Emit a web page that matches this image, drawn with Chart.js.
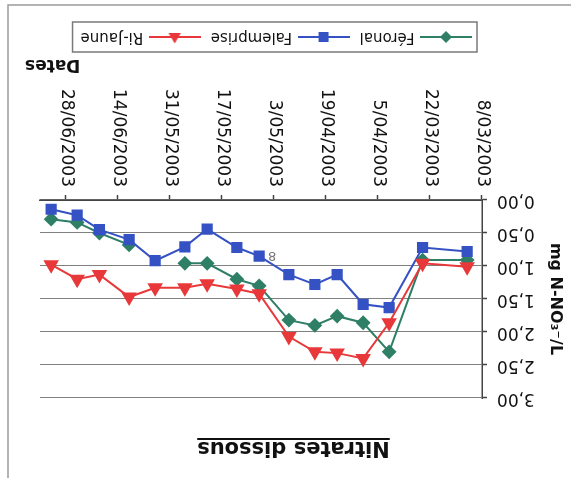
<!DOCTYPE html>
<html><head><meta charset="utf-8">
<script src="https://cdn.jsdelivr.net/npm/chart.js@4/dist/chart.umd.min.js"></script>
<style>
html,body{margin:0;padding:0;background:#fff;overflow:hidden;}
#wrap{width:571px;height:478px;transform:rotate(180deg);transform-origin:50% 50%;}
canvas{display:block;}
</style></head><body>
<div id="wrap"><canvas id="c" width="571" height="478"></canvas></div>
<script>
// ---- data ----
const sampleDates = ['12/03/2003','24/03/2003','2/04/2003','9/04/2003','16/04/2003','22/04/2003','29/04/2003','7/05/2003','13/05/2003','21/05/2003','27/05/2003','4/06/2003','11/06/2003','19/06/2003','25/06/2003','2/07/2003'];
const feronal    = [0.91,0.91,2.30,1.86,1.76,1.90,1.82,1.30,1.20,0.96,0.96,null,0.68,0.50,0.34,0.29];
const falemprise = [0.78,0.72,1.63,1.58,1.13,1.28,1.13,0.85,0.72,0.44,0.71,0.92,0.60,0.45,0.23,0.14];
const riJaune    = [1.01,0.96,1.86,2.40,2.32,2.30,2.07,1.42,1.35,1.27,1.33,1.33,1.47,1.13,1.20,0.98];
const seriesNames = ['Féronal','Falemprise','Ri-Jaune'];
const xTickLabels = ['8/03/2003','22/03/2003','5/04/2003','19/04/2003','3/05/2003','17/05/2003','31/05/2003','14/06/2003','28/06/2003'];
const yTickLabels = ['0,00','0,50','1,00','1,50','2,00','2,50','3,00'];
const axisStartDate = '8/03/2003';
const axisEndDate = '5/07/2003';
const chartTitle = 'Nitrates dissous';
const xTitle = 'Dates';
const yTitle = 'mg N-NO₃⁻/L';

// ---- helpers ----
function toUTC(s){ const [d,m,y] = s.split('/').map(Number); return Date.UTC(y, m-1, d); }
const base = toUTC(axisStartDate);
function dayOf(s){ return Math.round((toUTC(s) - base) / 86400000); }
function pts(vals){ return vals.map((v,i) => ({x: dayOf(sampleDates[i]), y: v})); }

const GREEN = '#2e7f66', BLUE = '#3552c4', RED = '#e8383a';
const FONT = "'DejaVu Sans', sans-serif";

function legendIcon(color, shape){
  const c = document.createElement('canvas'); c.width = 52; c.height = 16;
  const g = c.getContext('2d');
  g.strokeStyle = color; g.lineWidth = 2;
  g.beginPath(); g.moveTo(0, 8); g.lineTo(52, 8); g.stroke();
  g.fillStyle = color; g.beginPath();
  if (shape === 'rectRot') { g.moveTo(20,8); g.lineTo(26,2); g.lineTo(32,8); g.lineTo(26,14); }
  else if (shape === 'rect') { g.rect(21,3,10,10); }
  else { g.moveTo(26,1.5); g.lineTo(32.2,12); g.lineTo(19.8,12); }
  g.closePath(); g.fill();
  return c;
}
const icons = [legendIcon(GREEN,'rectRot'), legendIcon(BLUE,'rect'), legendIcon(RED,'triangle')];

const decor = {
  id: 'decor',
  beforeDraw(chart){
    const ctx = chart.ctx; ctx.save(); ctx.fillStyle = '#fff'; ctx.fillRect(0,0,chart.width,chart.height); ctx.restore();
  },
  afterDraw(chart){
    const ctx = chart.ctx, a = chart.chartArea;
    ctx.save();
    // outer frame
    ctx.strokeStyle = '#9a9a9a'; ctx.lineWidth = 1.5; ctx.strokeRect(-5, -5, 568, 478);
    // title with underline
    ctx.fillStyle = '#111'; ctx.font = 'bold 21px ' + FONT; ctx.textAlign = 'center'; ctx.textBaseline = 'alphabetic';
    ctx.fillText(chartTitle, 277.5, 36);
    const w = ctx.measureText(chartTitle).width;
    ctx.fillRect(277.5 - w/2, 38, w, 2);
    // x axis title
    ctx.font = 'bold 17px ' + FONT; ctx.textAlign = 'right';
    ctx.fillText(xTitle, a.right + 15, 418);
    // legend frame
    const hb = chart.legend.legendHitBoxes;
    if (hb && hb.length){
      const first = hb[0], last = hb[hb.length-1];
      const cy = first.top + first.height/2;
      ctx.strokeStyle = '#7a7a7a'; ctx.lineWidth = 1.5;
      ctx.strokeRect(first.left - 7, cy - 15, (last.left + last.width + 8) - (first.left - 7), 30);
    }
    // stray "8" label next to a Falemprise point
    const px = chart.scales.x.getPixelForValue(dayOf(sampleDates[7]));
    const py = chart.scales.y.getPixelForValue(falemprise[7]);
    ctx.fillStyle = '#777'; ctx.font = '13px ' + FONT; ctx.textAlign = 'center';
    ctx.fillText('8', px - 13, py + 4);
    ctx.restore();
  }
};

new Chart(document.getElementById('c'), {
  type: 'line',
  data: { datasets: [
    {label: seriesNames[0], data: pts(feronal), borderColor: GREEN, backgroundColor: GREEN, pointStyle: 'rectRot', pointRadius: 6, pointHoverRadius: 6, borderWidth: 2, tension: 0, spanGaps: false, order: 3},
    {label: seriesNames[1], data: pts(falemprise), borderColor: BLUE, backgroundColor: BLUE, pointStyle: 'rect', pointRadius: 6.5, pointHoverRadius: 6.5, borderWidth: 2, tension: 0, order: 2},
    {label: seriesNames[2], data: pts(riJaune), borderColor: RED, backgroundColor: RED, pointStyle: 'triangle', pointRadius: 7, pointHoverRadius: 7, borderWidth: 2, tension: 0, order: 1}
  ]},
  options: {
    responsive: false, animation: false, devicePixelRatio: 1,
    layout: {padding: {top: 80, right: 40, bottom: 19.5, left: 0}},
    scales: {
      x: {
        type: 'linear', min: 0, max: dayOf(axisEndDate),
        afterBuildTicks: s => { s.ticks = xTickLabels.map(t => ({value: dayOf(t)})); },
        afterFit: s => { s.height = 143.5; },
        ticks: {autoSkip: false, minRotation: 90, maxRotation: 90, padding: 8, color: '#111', font: {family: FONT, size: 17}, callback: (v, i) => xTickLabels[i]},
        grid: {drawOnChartArea: false, drawTicks: true, tickLength: 5, tickColor: '#444', tickWidth: 1.5},
        border: {color: '#444', width: 1.5}
      },
      y: {
        min: 0, max: 3,
        afterBuildTicks: s => { s.ticks = yTickLabels.map(t => ({value: parseFloat(t.replace(',', '.'))})); },
        afterFit: s => { s.width = 89; },
        ticks: {padding: 10, color: '#111', font: {family: FONT, size: 17}, callback: (v, i) => yTickLabels[i]},
        grid: {color: '#808080', lineWidth: 1, tickLength: 5, tickColor: '#444', tickWidth: 1.5},
        border: {color: '#444', width: 1.5},
        title: {display: true, text: yTitle, color: '#111', font: {family: FONT, size: 16, weight: 'bold'}, padding: {top: 6, bottom: 0}}
      }
    },
    plugins: {
      title: {display: false},
      tooltip: {enabled: false},
      legend: {
        position: 'bottom', align: 'start', fullSize: false,
        labels: {
          usePointStyle: true, pointStyleWidth: 48, padding: 12, color: '#111',
          font: {family: FONT, size: 15},
          sort: (a, b) => a.datasetIndex - b.datasetIndex,
          generateLabels: chart => Chart.defaults.plugins.legend.labels.generateLabels(chart).map(l => Object.assign(l, {pointStyle: icons[l.datasetIndex]}))
        }
      }
    }
  },
  plugins: [decor]
});
</script>
</body></html>
